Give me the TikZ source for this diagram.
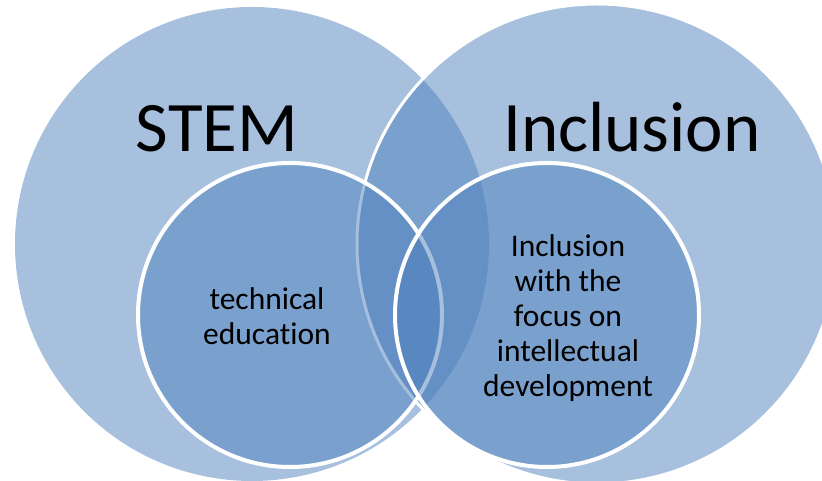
\documentclass[tikz,border=0pt]{standalone}
\usepackage{fontspec}
\setmainfont{Carlito}[Ligatures=NoCommon]
\usepackage{tikz}

\definecolor{vennblue}{HTML}{4F81BD}

\begin{document}
\begin{tikzpicture}[x=1pt, y=1pt,
    bigset/.style={circle, inner sep=0pt, outer sep=0pt, fill=vennblue, fill opacity=.5},
    subset/.style={circle, inner sep=0pt, outer sep=0pt, fill=vennblue, fill opacity=.5,
      draw=white, line width=4pt, minimum size=304},
    title/.style={font=\fontsize{71}{80}\selectfont, anchor=base},
    body/.style={font=\fontsize{31.5}{35}\selectfont, align=center, anchor=base}]
    \useasboundingbox (0,0) rectangle (822,481);

    % the two large sets, the right one drawn over the left
    \node[bigset, minimum size=474] (stem) at (252,237) {};
    \node[bigset, minimum size=480, draw=white, line width=3pt] (incl) at (597,237) {};

    % the two smaller sets inside them
    \node[subset] (tech) at (290,166) {};
    \node[subset] (focus) at (547,166) {};

    \node[title] (stemlbl) at (217,329) {STEM};
    \node[title] (incllbl) at (632,329) {Inclusion};

    % base sits on the last line of each text
    \node[body] (techlbl) at (267,136) {technical\\education};
    \node[body] (focuslbl) at (568,84) {Inclusion\\with the\\focus on\\intellectual\\development};
\end{tikzpicture}
\end{document}
